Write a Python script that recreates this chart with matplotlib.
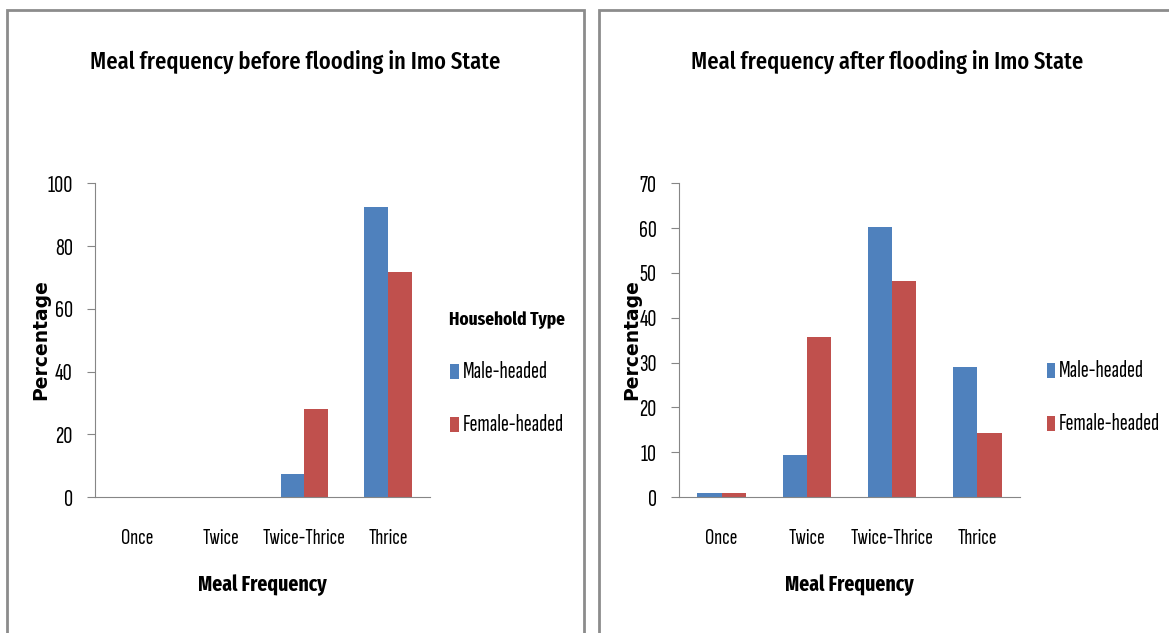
import matplotlib.pyplot as plt
from matplotlib.patches import Rectangle
import numpy as np

categories = ['Once', 'Twice', 'Twice-Thrice', 'Thrice']
before_male = [0, 0, 7.2, 92.6]
before_female = [0, 0, 28.0, 71.6]
after_male = [1.0, 9.3, 60.3, 28.9]
after_female = [1.0, 35.8, 48.3, 14.3]
series_names = ['Male-headed', 'Female-headed']
blue = '#4f81bd'
red = '#c0504d'

FONT = 'Sofia Sans Extra Condensed'
BOLD_FONT = ['Fira Sans Extra Condensed', 'DejaVu Sans']
plt.rcParams['font.family'] = [FONT, 'DejaVu Sans']

W, H = 1169, 633
fig = plt.figure(figsize=(W / 100, H / 100), dpi=100)
renderer = fig.canvas.get_renderer()


def fit(t, target_px):
    # scale a text so its width matches the reference width in pixels
    w = t.get_window_extent(renderer).width
    t.set_fontsize(t.get_fontsize() * target_px / w)
    return t.get_fontsize()


def fx(px):
    return px / W


def fy(px):
    return 1 - px / H


# panel frames
for x0, x1 in [(7, 584), (599, 1175)]:
    fig.patches.append(Rectangle((fx(x0), -0.05), (x1 - x0) / W, fy(10) + 0.05,
                                 transform=fig.transFigure, fill=False,
                                 edgecolor='#8c8c8c', lw=2))


def draw(left, right, male, female, ymax, step, title, title_x, title_w,
         legend_title, leg_x, ylab_x):
    ax = fig.add_axes([fx(left), fy(497), (right - left) / W, (497 - 183.3) / H])
    x = np.arange(len(categories))
    w = 0.285
    ax.bar(x - w / 2, male, w, color=blue, label=series_names[0])
    ax.bar(x + w / 2, female, w, color=red, label=series_names[1])
    ax.set_xlim(-0.5, len(categories) - 0.5)
    ax.set_ylim(0, ymax)
    ax.set_yticks(np.arange(0, ymax + 1, step))
    ax.set_xticks(x)
    ax.set_xticklabels(categories)
    for s in ['top', 'right']:
        ax.spines[s].set_visible(False)
    for s in ['left', 'bottom']:
        ax.spines[s].set_color('#868686')

    xs = fit(ax.get_xticklabels()[2], 83)
    ys = fit(ax.get_yticklabels()[-1], 25 if ymax == 100 else 17)
    ax.tick_params(axis='y', length=6, color='#868686', labelsize=ys, pad=10)
    ax.tick_params(axis='x', length=0, labelsize=xs, pad=23)

    xl = ax.set_xlabel('Meal Frequency', family=BOLD_FONT, fontweight='bold', labelpad=19)
    fit(xl, 129)
    fig.text(fx(ylab_x), fy(340), 'Percentage', rotation=90, ha='center', va='center',
             fontsize=13.5, fontweight='bold', family='DejaVu Sans')
    t = fig.text(fx(title_x), fy(62), title, ha='center', va='center',
                 family=BOLD_FONT, fontweight='medium')
    fit(t, title_w)

    leg = ax.legend(loc='upper left', bbox_to_anchor=(fx(leg_x), fy(312 if legend_title else 360)),
                    bbox_transform=fig.transFigure, frameon=False, title=legend_title,
                    fontsize=14, handlelength=0.42, handleheight=0.85, handletextpad=0.2,
                    labelspacing=1.6, borderpad=0, borderaxespad=0)
    fs = fit(leg.get_texts()[1], 101)
    for txt in leg.get_texts():
        txt.set_fontsize(fs)
    if legend_title:
        tt = leg.get_title()
        tt.set_family(BOLD_FONT)
        tt.set_fontweight('bold')
        fit(tt, 116)
    return ax


draw(95, 430, before_male, before_female, 100, 20,
     'Meal frequency before flooding in Imo State', 295, 410, 'Household Type', 449, 41)
draw(679, 1020, after_male, after_female, 70, 10,
     'Meal frequency after flooding in Imo State', 887, 393, None, 1047, 632)

fig.savefig('out.png', dpi=100)
